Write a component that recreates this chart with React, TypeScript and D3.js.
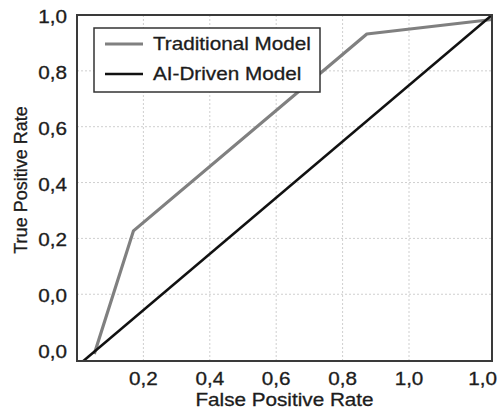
import React from "react";
import * as d3 from "d3";

const seriesNames = ["Traditional Model", "AI-Driven Model"];
const seriesColors = ["#808080", "#111111"];
const traditionalFpr = [0.052, 0.17, 0.873, 1.25];
const traditionalTpr = [-0.214, 0.227, 0.932, 0.984];
const aiFpr = [0.019, 1.25];
const aiTpr = [-0.239, 1.0];

const xTickValues = [0.2, 0.4, 0.6, 0.8, 1.0, 1.222];
const xTickLabels = ["0,2", "0,4", "0,6", "0,8", "1,0", "1,0"];
const yTickValues = [1.0, 0.8, 0.6, 0.4, 0.2, 0.0, -0.2];
const yTickLabels = ["1,0", "0,8", "0,6", "0,4", "0,2", "0,0", "0,0"];
const xGrid = [0.2, 0.4, 0.6, 0.8, 1.0];
const yGrid = [0.0, 0.2, 0.4, 0.6, 0.8];

const W = 498;
const H = 412;
const M = { left: 77, right: 6, top: 15, bottom: 51 };
const FONT = "'Liberation Sans', Arial, Helvetica, sans-serif";
const SX = 1.15;
const TXT = "#1c1c1c";

function SText({ x, y, anchor = "start", children, size = 18, dy = "0" }: any) {
  return (
    <g transform={`translate(${x},${y}) scale(${SX},1)`}>
      <text x={0} y={0} dy={dy} textAnchor={anchor} fontFamily={FONT} fontSize={size} fill={TXT} stroke={TXT} strokeWidth={0.3}>
        {children}
      </text>
    </g>
  );
}

export default function App() {
  const x = d3.scaleLinear().domain([0, 1.25]).range([M.left, W - M.right]);
  const y = d3.scaleLinear().domain([-0.239, 1.0]).range([H - M.bottom, M.top]);
  const line = d3
    .line<[number, number]>()
    .x((d) => x(d[0]))
    .y((d) => y(d[1]));
  const trad: [number, number][] = traditionalFpr.map((v, i) => [v, traditionalTpr[i]]);
  const ai: [number, number][] = aiFpr.map((v, i) => [v, aiTpr[i]]);
  const series = [trad, ai];
  const widths = [3.2, 2.5];

  const lx = 94, ly = 28, lw = 226, lh = 64;

  return (
    <svg width={W} height={H} style={{ position: "absolute", left: 0, top: 0, background: "#fff" }}>
      <rect x={0} y={0} width={W} height={H} fill="#fff" />
      {xGrid.map((v, i) => (
        <line key={"gx" + i} x1={x(v)} x2={x(v)} y1={y.range()[0]} y2={y.range()[1]} stroke="#cfcfcf" strokeWidth={1} strokeDasharray="2,2" />
      ))}
      {yGrid.map((v, i) => (
        <line key={"gy" + i} x1={x.range()[0]} x2={x.range()[1]} y1={y(v)} y2={y(v)} stroke="#cfcfcf" strokeWidth={1} strokeDasharray="2,2" />
      ))}
      {series.map((s, i) => (
        <path key={"s" + i} d={line(s) || ""} fill="none" stroke={seriesColors[i]} strokeWidth={widths[i]} strokeLinejoin="round" />
      ))}
      <rect x={x.range()[0]} y={y.range()[1]} width={x.range()[1] - x.range()[0]} height={y.range()[0] - y.range()[1]} fill="none" stroke="#3a3a3a" strokeWidth={2} />
      {xTickValues.map((v, i) => (
        <SText key={"xt" + i} x={x(v)} y={385} anchor="middle">{xTickLabels[i]}</SText>
      ))}
      {yTickValues.map((v, i) => (
        <SText key={"yt" + i} x={67} y={y(v) + 1.5} anchor="end" dy="0.36em">{yTickLabels[i]}</SText>
      ))}
      <SText x={(x.range()[0] + x.range()[1]) / 2} y={406} anchor="middle">False Positive Rate</SText>
      <text transform={`translate(27,180) rotate(-90)`} textAnchor="middle" fontFamily={FONT} fontSize={18} fill={TXT} stroke={TXT} strokeWidth={0.3}>
        True Positive Rate
      </text>
      <rect x={lx} y={ly} width={lw} height={lh} fill="#fff" stroke="#333" strokeWidth={1.5} />
      {seriesNames.map((n, i) => (
        <g key={"lg" + i}>
          <line x1={lx + 11} x2={lx + 49} y1={ly + 16 + i * 30} y2={ly + 16 + i * 30} stroke={seriesColors[i]} strokeWidth={widths[i]} />
          <SText x={lx + 59} y={ly + 16 + i * 30} dy="0.36em">{n}</SText>
        </g>
      ))}
    </svg>
  );
}
